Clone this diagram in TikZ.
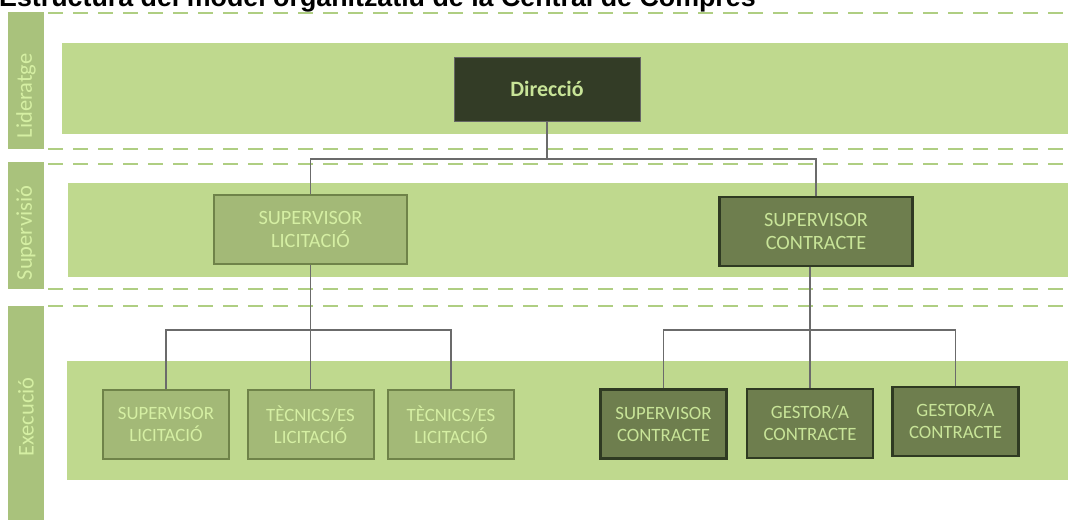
\documentclass[tikz,border=0pt]{standalone}
\usepackage{fontspec}
\setmainfont{Carlito}
\newfontfamily\titlefont{Liberation Sans}
\definecolor{sidebar}{HTML}{A9C27C}
\definecolor{dashc}{HTML}{AFCE82}
\definecolor{panel}{HTML}{BFD98E}
\definecolor{lightfill}{HTML}{A3B977}
\definecolor{lightedge}{HTML}{6F8349}
\definecolor{darkfill}{HTML}{6E7E4E}
\definecolor{darkedge}{HTML}{2F3A22}
\definecolor{dirfill}{HTML}{333C26}
\definecolor{lighttext}{HTML}{D5EFA3}
\definecolor{darktext}{HTML}{C8E498}
\definecolor{linkc}{HTML}{6B6B6B}
\tikzset{
  sepline/.style={dashc, line width=2.5pt, dash pattern=on 15pt off 10pt},
  sidelabel/.style={rotate=90, text=lighttext, font=\fontsize{22.5}{24}\selectfont, inner sep=0pt},
  lightbox/.style={draw=lightedge, fill=lightfill, line width=2pt, text=lighttext, align=center, inner sep=0pt},
  darkbox/.style={draw=darkedge, fill=darkfill, line width=2.5pt, text=darktext, align=center, inner sep=0pt},
  midsize/.style={minimum width=193pt, minimum height=69pt, font=\fontsize{20.3}{23}\selectfont},
  lowsize/.style={minimum width=126pt, minimum height=69pt, font=\fontsize{18.8}{22}\selectfont},
  link/.style={linkc, line width=1.5pt},
}
\begin{document}
\begin{tikzpicture}[x=1pt,y=-1pt]
\useasboundingbox (0,0) rectangle (1070,520);
% title (cut off at top, as in the reference)
\node[anchor=base west, inner sep=0pt, font=\titlefont\bfseries\fontsize{26.8}{30}\selectfont] (title) at (-1,6) {Estructura del model organitzatiu de la Central de Compres};
% side bars
\fill[sidebar] (8,12) rectangle (44,149);
\fill[sidebar] (8,162) rectangle (44,289);
\fill[sidebar] (8,306) rectangle (44,520);
\node[sidelabel] (llid) at (26,96) {Lideratge};
\node[sidelabel] (lsup) at (26,233) {Supervisió};
\node[sidelabel] (lexe) at (26,417) {Execució};
% dashed separators
\draw[sepline] (48,13) -- (1070,13);
\draw[sepline] (48,149) -- (1070,149);
\draw[sepline] (48,164) -- (1070,164);
\draw[sepline] (48,289) -- (1070,289);
\draw[sepline] (48,306) -- (1070,306);
% panels
\fill[panel] (62,43) rectangle (1068,134);
\fill[panel] (68,183) rectangle (1068,277);
\fill[panel] (67,361) rectangle (1068,480);
% nodes
\node[draw=black!60, fill=dirfill, line width=1pt, minimum width=186pt, minimum height=64pt, text=darktext, font=\bfseries\fontsize{21.9}{24}\selectfont] (dir) at (547,89) {Direcció};
\node[lightbox, midsize] (suplic) at (310.5,229.5) {SUPERVISOR\\LICITACIÓ};
\node[darkbox, midsize] (supcon) at (816,231.5) {SUPERVISOR\\CONTRACTE};
\node[lightbox, lowsize] (b1) at (166,424.5) {SUPERVISOR\\LICITACIÓ};
\node[lightbox, lowsize] (b2) at (310.5,424.5) {TÈCNICS/ES\\LICITACIÓ};
\node[lightbox, lowsize] (b3) at (451,424.5) {TÈCNICS/ES\\LICITACIÓ};
\node[darkbox, lowsize] (b4) at (663.5,424) {SUPERVISOR\\CONTRACTE};
\node[darkbox, lowsize] (b5) at (810,423.5) {GESTOR/A\\CONTRACTE};
\node[darkbox, lowsize] (b6) at (955.5,421.5) {GESTOR/A\\CONTRACTE};
% connectors
\coordinate (tj) at (547,159);
\coordinate (lj) at (310.5,330);
\coordinate (rj) at (810,330);
\draw[link] (dir.south) -- (tj);
\draw[link] (suplic.north) |- (tj) -| (supcon.north);
\draw[link] (suplic.south) -- (b2.north);
\draw[link] (b1.north) |- (lj) -| (b3.north);
\draw[link] (supcon.south -| rj) -- (b5.north);
\draw[link] (b4.north) |- (rj) -| (b6.north);
\end{tikzpicture}
\end{document}
